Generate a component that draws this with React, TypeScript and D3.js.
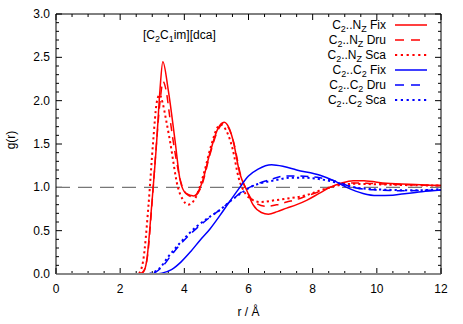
import React, { useEffect, useRef } from "react";
import * as d3 from "d3";

type Pt = [number, number];

// C2..NZ (red) and C2..C2 (blue) radial distribution functions
const redFix: Pt[] = [[0,0],[2.6,0],[2.72,0.02],[2.83,0.16],[2.98,0.78],[3.14,1.54],[3.24,2.12],[3.33,2.45],[3.5,2.12],[3.71,1.54],[3.87,1.08],[4.05,0.93],[4.3,0.9],[4.55,1.05],[4.8,1.4],[5.05,1.68],[5.24,1.75],[5.4,1.68],[5.52,1.54],[5.73,1.16],[5.94,0.97],[6.14,0.8],[6.4,0.71],[6.62,0.69],[6.9,0.72],[7.19,0.76],[7.5,0.8],[7.81,0.85],[8.2,0.93],[8.54,1.0],[8.9,1.05],[9.26,1.077],[9.6,1.075],[10.3,1.046],[11.35,1.03],[12,1.02]];
const redDru: Pt[] = [[0,0],[2.6,0],[2.72,0.03],[2.85,0.2],[3.0,0.85],[3.14,1.55],[3.24,1.98],[3.34,2.22],[3.44,2.1],[3.55,1.8],[3.71,1.4],[3.9,1.05],[4.05,0.93],[4.28,0.89],[4.55,1.03],[4.8,1.38],[5.05,1.66],[5.22,1.74],[5.4,1.67],[5.55,1.5],[5.75,1.15],[5.95,0.96],[6.15,0.84],[6.55,0.78],[6.9,0.8],[7.19,0.83],[7.5,0.86],[7.81,0.9],[8.2,0.95],[8.54,1.0],[8.9,1.04],[9.26,1.05],[9.8,1.045],[10.5,1.035],[11.35,1.025],[12,1.02]];
const redSca: Pt[] = [[0,0],[2.55,0],[2.65,0.05],[2.72,0.16],[2.88,0.78],[3.03,1.54],[3.14,1.98],[3.23,2.07],[3.32,1.98],[3.42,1.8],[3.55,1.54],[3.8,1.0],[3.95,0.86],[4.12,0.8],[4.35,0.88],[4.6,1.15],[4.85,1.5],[5.05,1.7],[5.15,1.72],[5.3,1.66],[5.5,1.45],[5.7,1.1],[5.9,0.93],[6.1,0.86],[6.36,0.83],[6.8,0.85],[7.19,0.87],[7.81,0.91],[8.2,0.96],[8.54,1.0],[8.9,1.03],[9.26,1.04],[10,1.035],[11,1.025],[12,1.02]];
const blueFix: Pt[] = [[0,0],[3.0,0],[3.3,0.01],[3.6,0.05],[3.9,0.14],[4.2,0.26],[4.49,0.39],[4.8,0.52],[5.1,0.67],[5.4,0.83],[5.73,1.0],[6.0,1.13],[6.3,1.21],[6.72,1.26],[7.1,1.24],[7.5,1.2],[8.23,1.14],[8.64,1.08],[9.06,1.0],[9.57,0.93],[10.0,0.905],[10.5,0.91],[10.93,0.93],[11.4,0.95],[12,0.97]];
const blueDru: Pt[] = [[0,0],[2.9,0],[3.1,0.02],[3.3,0.08],[3.6,0.22],[3.87,0.34],[4.1,0.43],[4.39,0.53],[4.75,0.64],[5.11,0.74],[5.5,0.86],[5.8,0.95],[6.15,1.02],[6.5,1.07],[6.77,1.1],[7.1,1.13],[7.5,1.13],[8.23,1.11],[8.64,1.08],[9.26,1.0],[9.6,0.98],[10.0,0.97],[10.93,0.96],[11.5,0.965],[12,0.97]];
const blueSca: Pt[] = [[0,0],[2.85,0],[3.05,0.02],[3.24,0.07],[3.5,0.2],[3.87,0.36],[4.1,0.45],[4.39,0.55],[4.75,0.65],[5.11,0.74],[5.5,0.86],[5.8,0.94],[6.05,1.0],[6.4,1.05],[6.8,1.08],[7.3,1.11],[7.8,1.11],[8.3,1.09],[8.8,1.05],[9.3,1.0],[9.8,0.98],[10.5,0.97],[11.2,0.965],[12,0.98]];

const series = [
  { pair: "N", kind: "Fix", color: "#ff0000", dash: null, data: redFix },
  { pair: "N", kind: "Dru", color: "#ff0000", dash: "8,6", data: redDru },
  { pair: "N", kind: "Sca", color: "#ff0000", dash: "2,3", data: redSca },
  { pair: "C", kind: "Fix", color: "#0000ff", dash: null, data: blueFix },
  { pair: "C", kind: "Dru", color: "#0000ff", dash: "8,6", data: blueDru },
  { pair: "C", kind: "Sca", color: "#0000ff", dash: "2,3", data: blueSca },
];

const xTicks = [0, 2, 4, 6, 8, 10, 12];
const yTicks = [0, 0.5, 1.0, 1.5, 2.0, 2.5, 3.0];

const W = 463, H = 324;
const m = { left: 56, right: 22, top: 14, bottom: 50 };
const font = "'Liberation Sans', Arial, sans-serif";

const App = () => {
  const ref = useRef<SVGSVGElement>(null);

  useEffect(() => {
    const svg = d3.select(ref.current);
    svg.selectAll("*").remove();

    const x = d3.scaleLinear().domain([0, 12]).range([m.left, W - m.right]);
    const y = d3.scaleLinear().domain([0, 3]).range([H - m.bottom, m.top]);
    const [x0, x1] = x.range();
    const [y0, y1] = y.range();

    const g = svg.append("g").attr("font-family", font).attr("font-size", 12);

    // ticks on all four sides
    const xMinor = d3.range(0, 12.01, 0.5);
    const yMinor = d3.range(0, 3.001, 0.1);
    xMinor.forEach((v) => {
      const len = Math.abs(v % 2) < 1e-6 ? 6 : 3;
      g.append("line").attr("x1", x(v)).attr("x2", x(v)).attr("y1", y0).attr("y2", y0 - len).attr("stroke", "#000");
      g.append("line").attr("x1", x(v)).attr("x2", x(v)).attr("y1", y1).attr("y2", y1 + len).attr("stroke", "#000");
    });
    yMinor.forEach((v) => {
      const major = Math.abs(Math.round(v * 10) % 5) === 0;
      const len = major ? 6 : 3;
      g.append("line").attr("x1", x0).attr("x2", x0 + len).attr("y1", y(v)).attr("y2", y(v)).attr("stroke", "#000");
      g.append("line").attr("x1", x1).attr("x2", x1 - len).attr("y1", y(v)).attr("y2", y(v)).attr("stroke", "#000");
    });

    g.selectAll(".xl").data(xTicks).enter().append("text")
      .attr("x", (d) => x(d)).attr("y", y0 + 19).attr("text-anchor", "middle").text((d) => d);
    g.selectAll(".yl").data(yTicks).enter().append("text")
      .attr("x", x0 - 6).attr("y", (d) => y(d) + 4).attr("text-anchor", "end").text((d) => d.toFixed(1));

    // reference line g(r)=1
    g.append("line").attr("x1", x0).attr("x2", x1).attr("y1", y(1)).attr("y2", y(1))
      .attr("stroke", "#777").attr("stroke-width", 1.2).attr("stroke-dasharray", "14,8");

    const line = d3.line<Pt>().x((d) => x(d[0])).y((d) => y(d[1])).curve(d3.curveMonotoneX);
    series.forEach((s) => {
      const p = g.append("path").attr("d", line(s.data)).attr("fill", "none")
        .attr("stroke", s.color).attr("stroke-width", s.dash === "2,3" ? 2 : 1.5);
      if (s.dash) p.attr("stroke-dasharray", s.dash === "2,3" ? "2.2,3" : s.dash);
    });

    // frame
    g.append("line").attr("x1", x0).attr("x2", x1).attr("y1", y0).attr("y2", y0).attr("stroke", "#888").attr("stroke-width", 2);
    g.append("path").attr("d", `M${x0},${y0}V${y1}H${x1}V${y0}`).attr("fill", "none").attr("stroke", "#000");

    // legend
    series.forEach((s, i) => {
      const ly = 25 + i * 15;
      const t = g.append("text").attr("x", 386).attr("y", ly + 4).attr("text-anchor", "end");
      t.append("tspan").text("C");
      t.append("tspan").attr("font-size", 9).attr("dy", 3).text("2");
      t.append("tspan").attr("dy", -3).text(".." + (s.pair === "N" ? "N" : "C"));
      t.append("tspan").attr("font-size", 9).attr("dy", 3).text(s.pair === "N" ? "Z" : "2");
      t.append("tspan").attr("dy", -3).text(" " + s.kind);
      const l = g.append("line").attr("x1", 395).attr("x2", 427).attr("y1", ly).attr("y2", ly)
        .attr("stroke", s.color).attr("stroke-width", s.dash === "2,3" ? 2 : 1.5);
      if (s.dash) l.attr("stroke-dasharray", s.dash === "2,3" ? "2.2,3.6" : "9,7");
    });

    // title
    const tt = g.append("text").attr("x", 143).attr("y", 39);
    tt.append("tspan").text("[C");
    tt.append("tspan").attr("font-size", 9).attr("dy", 3).text("2");
    tt.append("tspan").attr("dy", -3).text("C");
    tt.append("tspan").attr("font-size", 9).attr("dy", 3).text("1");
    tt.append("tspan").attr("dy", -3).text("im][dca]");

    g.append("text").attr("x", (x0 + x1) / 2).attr("y", 316).attr("text-anchor", "middle").text("r / Å");
    g.append("text").attr("transform", `translate(15,140) rotate(-90)`).attr("text-anchor", "middle").text("g(r)");
  }, []);

  return (
    <svg ref={ref} width={W} height={H} style={{ position: "absolute", left: 0, top: 0, background: "#fff" }} />
  );
};

export default App;
